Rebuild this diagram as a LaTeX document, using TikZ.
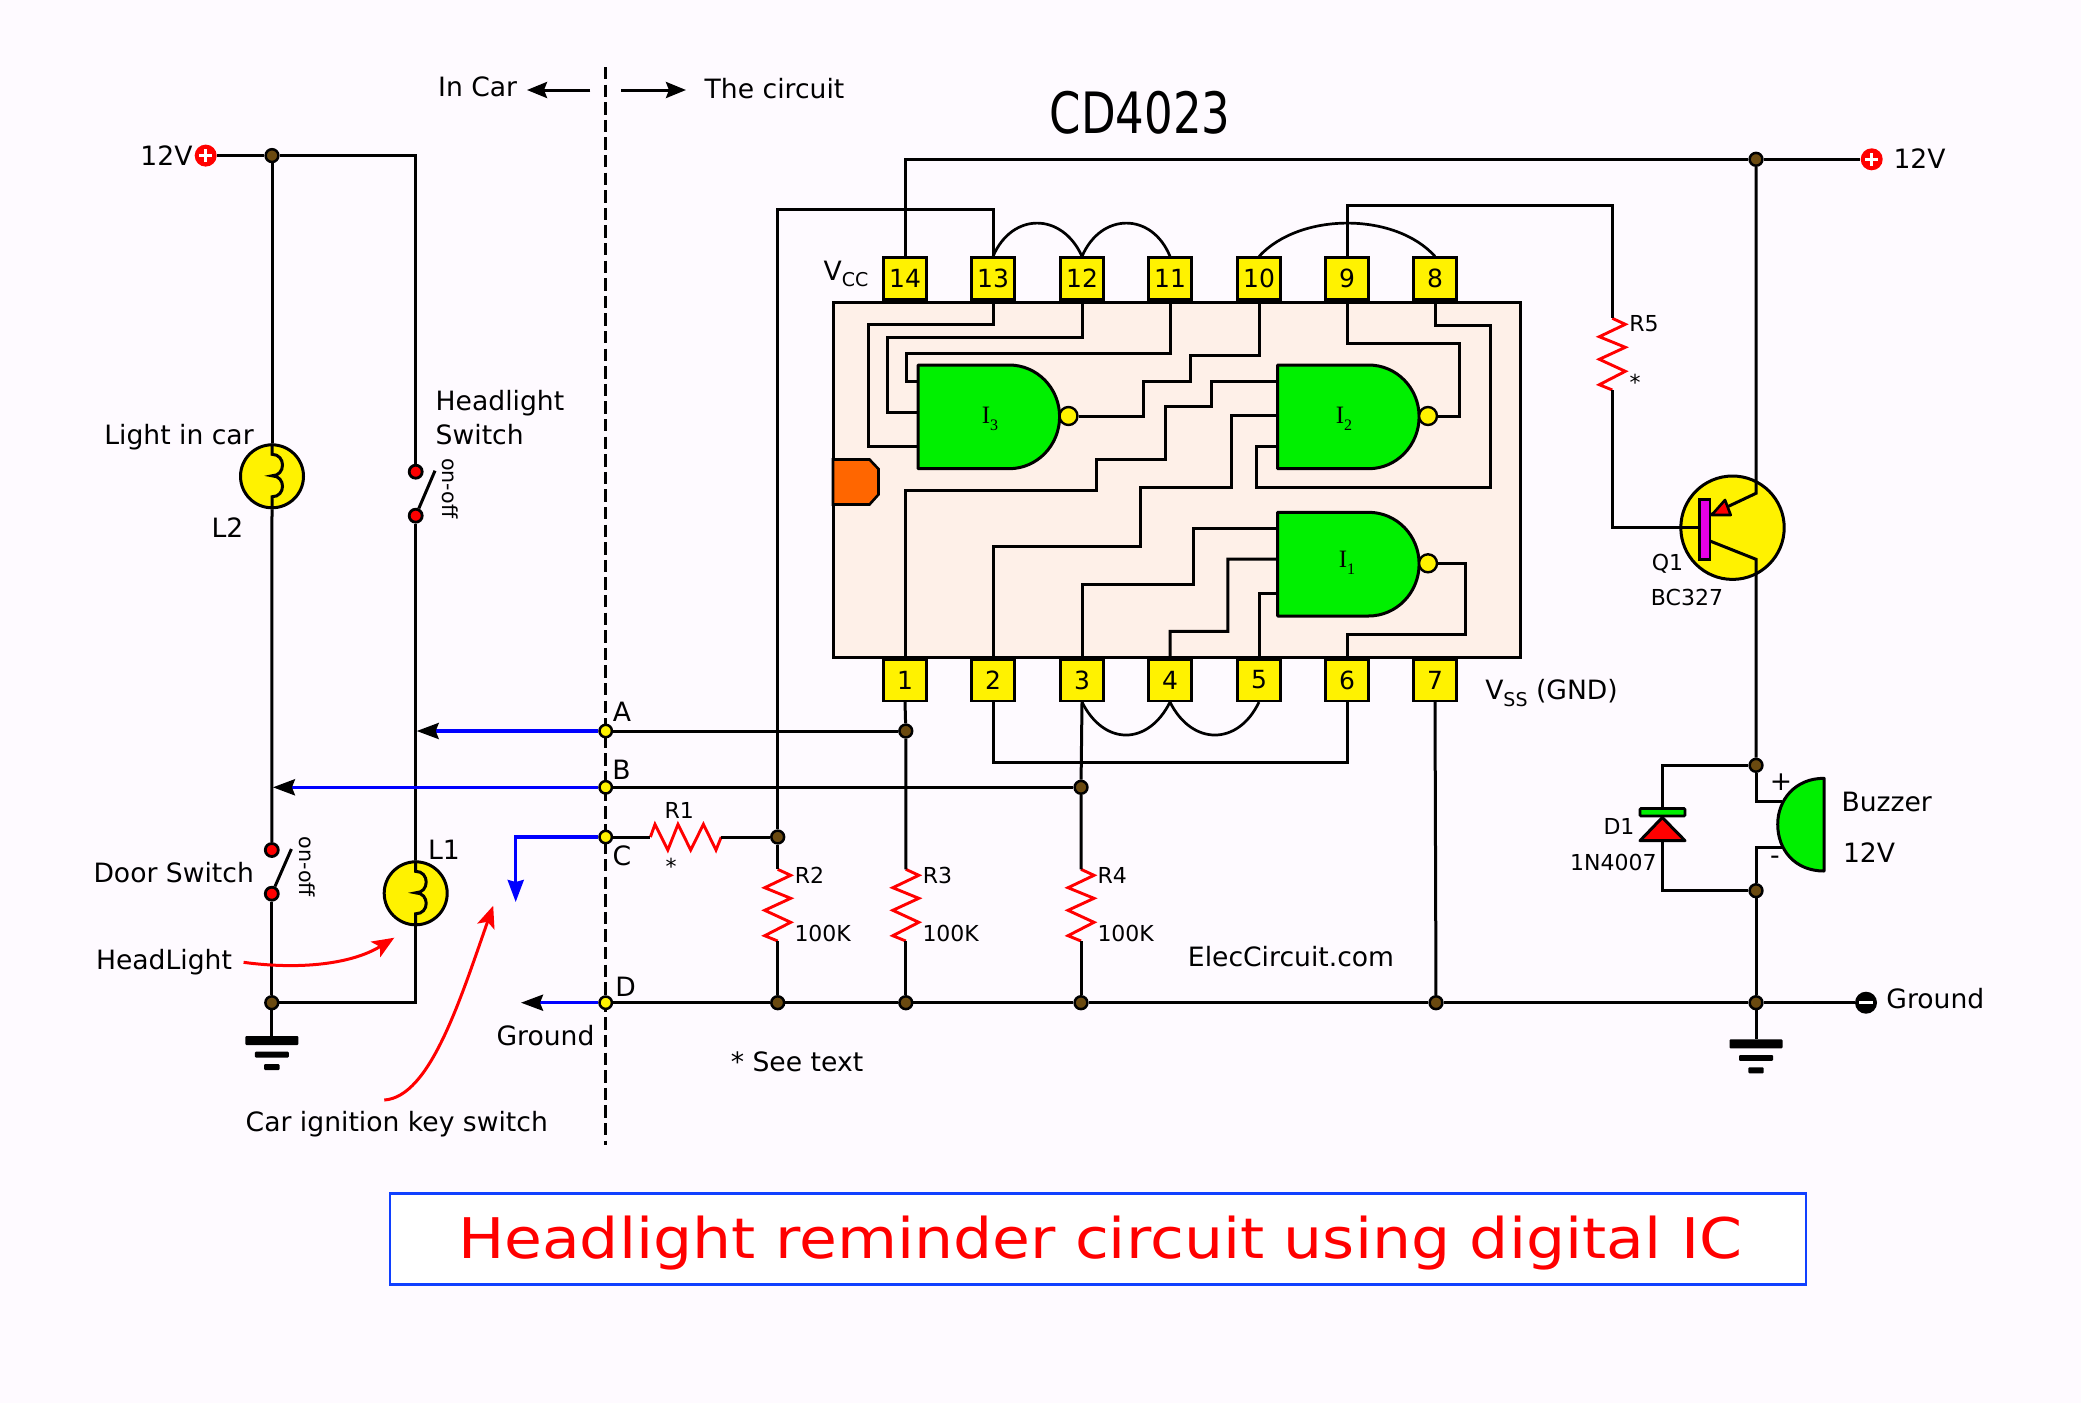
\documentclass[tikz,border=0pt]{standalone}
\usepackage{fontspec}
\setmainfont{DejaVu Sans}
\newfontfamily\gserif{Liberation Serif}
\usetikzlibrary{arrows.meta,shapes.geometric}
\pgfdeclarelayer{under}
\pgfdeclarelayer{wires}
\pgfsetlayers{under,wires,main}
\definecolor{bgc}{HTML}{FEFAFF}
\definecolor{icfill}{HTML}{FEF0E8}
\definecolor{brownj}{HTML}{6B4A10}
\definecolor{ggreen}{HTML}{00F000}
\definecolor{orng}{HTML}{FF6600}
\definecolor{titleblue}{HTML}{1040FF}
\definecolor{barm}{HTML}{E600E6}
\tikzset{
  wire/.style={line width=1.5pt,line join=miter,black},
  thinw/.style={line width=1.35pt,black},
  bluew/.style={line width=1.6pt,blue},
  redz/.style={line width=1.45pt,red,line join=miter},
  lbl/.style={font=\fontsize{13.3}{15}\selectfont,inner sep=0pt,black},
  slbl/.style={font=\fontsize{11}{13}\selectfont,inner sep=0pt,black},
  pinbox/.style={draw=black,fill=yellow,line width=1.3pt,minimum width=21.5pt,minimum height=20.8pt,inner sep=0pt,font=\fontsize{12.5}{14}\selectfont},
  jn/.style={circle,fill=brownj,draw=black,line width=1.25pt,minimum size=6.4pt,inner sep=0pt},
  ydot/.style={circle,fill=yellow,draw=black,line width=1.25pt,minimum size=6.2pt,inner sep=0pt},
  rdot/.style={circle,fill=red,draw=black,line width=1.4pt,minimum size=6.5pt,inner sep=0pt},
  lampc/.style={circle,fill=yellow,draw=black,line width=1.5pt,minimum size=31.5pt,inner sep=0pt},
  term/.style={circle,minimum size=11pt,inner sep=0pt},
  bubble/.style={circle,fill=yellow,draw=black,line width=1.2pt,minimum width=8pt,minimum height=9pt,inner sep=0pt},
  gateline/.style={draw=black,line width=1.5pt,fill=ggreen,line join=round},
  blk/.style={-{Stealth[length=11pt,width=8pt,inset=1.5pt,color=black,fill=black]}},
  redarrow/.style={-{Stealth[length=11pt,width=9pt,inset=2.5pt,color=red,fill=red]},line width=1.5pt,red},
}
\newcommand\nandgate[4]{%
  \begin{scope}[shift={(#2,#3)}]
    \draw[gateline] (0,0) -- (91,0) .. controls (119,0) and (141.6,23) .. (141.6,51.7)
      .. controls (141.6,80.4) and (119,103.7) .. (91,103.7) -- (0,103.7) -- cycle;
    \node[bubble] (#1o) at (150.5,51) {};
    \coordinate (#1a) at (0,16);
    \coordinate (#1b) at (0,#4);
    \coordinate (#1c) at (0,81.5);
  \end{scope}}
\newcommand\vres[3]{%
  \coordinate (#1t) at (#2,#3);
  \coordinate (#1b) at (#2,#3+71.7);
  \begin{pgfonlayer}{wires}
  \draw[redz] (#1t) -- ++(13,6) -- ++(-26,12.4) -- ++(26,10.6) -- ++(-26,12) -- ++(26,12) -- ++(-26,13.4) -- (#1b);
  \end{pgfonlayer}}
\newcommand\lampcoil[1]{%
  \draw[wire] (#1.north) -- ++(0,11) .. controls +(14,0) and +(14,0) .. ++(0,21.5)
    .. controls +(14,0) and +(14,0) .. ++(0,21) -- (#1.south);}
\newcommand\gndsym[2]{%
  \fill[black,rounded corners=0.5pt] (#1-26.5,#2) rectangle (#1+26.5,#2+9);
  \fill[black,rounded corners=0.5pt] (#1-17,#2+15.7) rectangle (#1+17,#2+21.5);
  \fill[black,rounded corners=0.5pt] (#1-7.7,#2+28) rectangle (#1+7.7,#2+34);}
\newcommand\gatelab[1]{{\gserif I}\raisebox{-0.55ex}{\fontsize{8}{9}\selectfont\gserif #1}}
\begin{document}
\begin{tikzpicture}[x=0.5pt,y=-0.5pt]
\useasboundingbox (0,0) rectangle (2081,1403);
\begin{pgfonlayer}{under}
  \fill[bgc] (0,0) rectangle (2081,1403);
  \draw[fill=icfill,draw=black,line width=1.5pt] (833,302) rectangle (1520,657.5);
  \draw[fill=orng,draw=black,line width=1.3pt] (833,459.5) -- (869.5,459.5) -- (878.5,469) -- (878.5,494.5) -- (869.5,504.5) -- (833,504.5) -- cycle;
  \node[lampc] (l2) at (272,476.3) {};
  \node[lampc] (l1) at (415.7,893.3) {};
  \node[circle,fill=yellow,draw=black,line width=1.5pt,minimum size=51.7pt,inner sep=0pt] (q1) at (1732.5,527.7) {};
\end{pgfonlayer}

% IC pins
\foreach \n/\x in {14/905,13/993,12/1082,11/1170,10/1259,9/1347,8/1435}
  \node[pinbox] (p\n) at (\x,278.5) {\n};
\foreach \n/\x in {1/905,2/993,3/1082,4/1170,5/1259,6/1347,7/1435}
  \node[pinbox] (p\n) at (\x,680) {\n};

% gates
\nandgate{ga}{918}{365}{47}
\nandgate{gb}{1277.5}{365}{50.3}
\nandgate{gc}{1277.5}{512.3}{46.7}
\node[inner sep=0pt,font=\fontsize{12.5}{14}\selectfont] (l3) at (990,419) {\gatelab{3}};
\node[inner sep=0pt,font=\fontsize{12.5}{14}\selectfont] (l4) at (1344,419) {\gatelab{2}};
\node[inner sep=0pt,font=\fontsize{12.5}{14}\selectfont] (l5) at (1347,563) {\gatelab{1}};

% junctions & terminals
\node[jn] (jtop) at (1756,159.3) {};
\node[jn] (jL) at (272,155.6) {};
\node[jn] (jA) at (905.8,731) {};
\node[jn] (jB) at (1081,787.3) {};
\node[jn] (jr2) at (777.7,837) {};
\node[jn] (jr2g) at (777.7,1002.7) {};
\node[jn] (jr3g) at (905.8,1002.7) {};
\node[jn] (jr4g) at (1081,1002.7) {};
\node[jn] (j7g) at (1436,1002.7) {};
\node[jn] (jg) at (1756,1002.7) {};
\node[jn] (jb1) at (1756,765.3) {};
\node[jn] (jb2) at (1756,890.7) {};
\node[jn] (jLg) at (271.8,1002.7) {};
\node[ydot] (nA) at (605.7,731) {};
\node[ydot] (nB) at (605.7,787.3) {};
\node[ydot] (nC) at (605.7,837) {};
\node[ydot] (nD) at (605.7,1002.7) {};
\node[rdot] (sw1a) at (415.7,471.7) {};
\node[rdot] (sw1b) at (415.7,515.7) {};
\node[rdot] (sw2a) at (271.8,850) {};
\node[rdot] (sw2b) at (271.8,893.7) {};
\node[term,fill=red] (plusL) at (205.7,155.6) {};
\node[term,fill=red] (plusR) at (1871.7,159.3) {};
\node[term,fill=black] (minusR) at (1866,1002.7) {};
\draw[white,line width=1.3pt] ([xshift=-3.3pt]plusL.center) -- ([xshift=3.3pt]plusL.center);
\draw[white,line width=1.3pt] ([yshift=-3.3pt]plusL.center) -- ([yshift=3.3pt]plusL.center);
\draw[white,line width=1.3pt] ([xshift=-3.3pt]plusR.center) -- ([xshift=3.3pt]plusR.center);
\draw[white,line width=1.3pt] ([yshift=-3.3pt]plusR.center) -- ([yshift=3.3pt]plusR.center);
\draw[white,line width=1.5pt] ([xshift=-3.5pt]minusR.center) -- ([xshift=3.5pt]minusR.center);

% resistors
\vres{rb}{777.7}{869.3}
\vres{rc}{905.8}{869.3}
\vres{rd}{1081}{869.3}
\vres{re}{1612.3}{318.3}
\coordinate (rar) at (650.4,837);
\coordinate (rbr) at (721.2,837);
\begin{pgfonlayer}{wires}
\draw[redz] (rar) -- ++(4.6,-12.7) -- ++(12.8,25.7) -- ++(10.2,-25.7) -- ++(12.7,25.7) -- ++(12.7,-25.7) -- ++(12.6,25.7) -- (rbr);
\end{pgfonlayer}

% transistor
\coordinate (qe) at (1756,493.3);
\coordinate (qc) at (1756,559.3);
\coordinate (qb) at (1699.5,527.7);
\draw[fill=barm,draw=black,line width=1.3pt] (1699.5,499.5) rectangle (1710,559.5);
\draw[fill=red,draw=black,line width=1.3pt,line join=round] (1711.7,515) -- (1725,500) -- (1730.7,515) -- cycle;

% buzzer
\draw[gateline] (1824,778.3) .. controls (1795,778.3) and (1777.7,800) .. (1777.7,824.3)
  .. controls (1777.7,850) and (1795,871) .. (1824,871) -- cycle;
\coordinate (bz1) at (1782,801.7);
\coordinate (bz2) at (1782,847.3);

% diode
\draw[fill=ggreen,draw=black,line width=1.3pt,rounded corners=0.5pt] (1640,808.5) rectangle (1685,816);
\draw[fill=red,draw=black,line width=1.5pt,line join=round] (1662.3,817.5) -- (1685,840.7) -- (1640,840.7) -- cycle;
\coordinate (da) at (1662.3,808.5);
\coordinate (dc) at (1662.3,840.7);

% grounds
\gndsym{271.8}{1036}
\gndsym{1756}{1039.3}
\coordinate (gl) at (271.8,1036);
\coordinate (gr) at (1756,1039.3);

% wires
\begin{pgfonlayer}{wires}
  % internal IC wiring
  \draw[wire] (p13.south) -- (993,324.7) -- (868.6,324.7) -- (868.6,446.5) -- (gac);
  \draw[wire] (p12.south) -- (1082,337.3) -- (887,337.3) -- (887,412) -- (gab);
  \draw[wire] (p11.south) -- (1170,353) -- (906,353) -- (906,381) -- (gaa);
  \draw[wire] (gao) -- (1143.7,416) -- (1143.7,381) -- (1190.4,381) -- (1190.4,355.7) -- (1259,355.7) -- (p10.south);
  \draw[wire] (gbo) -- (1459.6,416) -- (1459.6,343.7) -- (1347,343.7) -- (p9.south);
  \draw[wire] (p8.south) -- (1435,325) -- (1490.5,325) -- (1490.5,487) -- (1256,487) -- (1256,446.5) -- (gbc);
  \draw[wire] (gba) -- (1211.8,381) -- (1211.8,406.3) -- (1165.6,406.3) -- (1165.6,459.3) -- (1096.4,459.3) -- (1096.4,490.3) -- (905,490.3) -- (p1.north);
  \draw[wire] (gbb) -- (1231,415.3) -- (1231,487) -- (1140.2,487) -- (1140.2,546.7) -- (993,546.7) -- (p2.north);
  \draw[wire] (gco) -- (1465.6,563.3) -- (1465.6,634) -- (1347,634) -- (p6.north);
  \draw[wire] (gca) -- (1193.4,528.3) -- (1193.4,584) -- (1082,584) -- (p3.north);
  \draw[wire] (gcb) -- (1227.8,559) -- (1227.8,631.3) -- (1170,631.3) -- (p4.north);
  \draw[wire] (gcc) -- (1259,593.8) -- (p5.north);
  % top wiring
  \draw[wire] (p14.north) -- (905,159.3) -- (jtop);
  \draw[wire] (jtop) -- (plusR);
  \draw[wire] (p13.north) -- (993,209.3) -- (777.7,209.3) -- (jr2);
  \draw[wire] (p9.north) -- (1347,205) -- (1612.3,205) -- (ret);
  \draw[thinw] (p13.north) .. controls (1012,212) and (1062,212) .. (p12.north);
  \draw[thinw] (p12.north) .. controls (1101,212) and (1152,212) .. (p11.north);
  \draw[thinw] (p10.north) .. controls (1300,212) and (1395,212) .. (p8.north);
  % bottom wiring
  \draw[thinw] (p3.south) .. controls (1104,746) and (1148,746) .. (p4.south);
  \draw[thinw] (p4.south) .. controls (1192,746) and (1238,746) .. (p5.south);
  \draw[wire] (p2.south) -- (993,762.3) -- (1347,762.3) -- (p6.south);
  \draw[wire] (p1.south) -- (jA) -- (rct);
  \draw[wire] (p3.south) -- (jB) -- (rdt);
  \draw[wire] (p7.south) -- (j7g);
  \draw[wire] (nA) -- (jA);
  \draw[wire] (nB) -- (jB);
  \draw[wire] (nC) -- (rar);
  \draw[wire] (rbr) -- (jr2);
  \draw[wire] (jr2) -- (rbt);
  \draw[wire] (rbb) -- (jr2g);
  \draw[wire] (rcb) -- (jr3g);
  \draw[wire] (rdb) -- (jr4g);
  \draw[wire] (nD) -- (jr2g) -- (jr3g) -- (jr4g) -- (j7g) -- (jg) -- (minusR);
  % transistor
  \draw[wire] (reb) -- (1612.3,527.7) -- (qb);
  \draw[wire] (jtop) -- (qe) -- (1710,515);
  \draw[wire] (1710,541) -- (qc) -- (jb1);
  % buzzer and diode
  \draw[wire] (jb1) -- (1662.3,765.3) -- (da);
  \draw[wire] (dc) -- (1662.3,890.7) -- (jb2);
  \draw[wire] (jb1) -- (1756,801.7) -- (bz1);
  \draw[wire] (bz2) -- (1756,847.3) -- (jb2);
  \draw[wire] (jb2) -- (jg);
  \draw[wire] (jg) -- (gr);
  % car side
  \draw[wire] (plusL) -- (jL);
  \draw[wire] (jL) -- (415.7,155.6) -- (sw1a);
  \draw[wire] (jL) -- (l2.north);
  \lampcoil{l2}
  \lampcoil{l1}
  \draw[wire] (l2.south) -- (sw2a);
  \draw[wire] (sw1b) -- (l1.north);
  \draw[wire] (sw2b) -- (jLg);
  \draw[wire] (l1.south) -- (415.7,1002.7) -- (jLg);
  \draw[wire] (jLg) -- (gl);
  \coordinate (sw1l) at (435,470.7);
  \coordinate (sw2l) at (291.4,849);
  \draw[line width=1.5pt] (sw1b) -- (sw1l);
  \draw[line width=1.5pt] (sw2b) -- (sw2l);
  % dashed divider
  \coordinate (dvt) at (605.7,67);
  \coordinate (dvb) at (605.7,1145);
  \draw[line width=1.5pt,dash pattern=on 6.2pt off 2.6pt] (dvt) -- (dvb);
\end{pgfonlayer}

% blue arrows
\coordinate (ta) at (416.7,731);
\coordinate (tb) at (272.9,787.3);
\coordinate (tc) at (515.7,902);
\coordinate (td) at (521,1002.7);
\begin{pgfonlayer}{wires}
  \draw[bluew,blk] (nA) -- (ta);
  \draw[bluew,blk] (nB) -- (tb);
  \draw[bluew,blk] (nD) -- (td);
  \draw[bluew,-{Stealth[length=11pt,width=8pt,inset=1pt]}] (nC) -- (515.7,837) -- (tc);
\end{pgfonlayer}

% direction arrows
\coordinate (icl) at (590.4,90);
\coordinate (icr) at (527,90);
\coordinate (tcl) at (621,90);
\coordinate (tcr) at (686,90);
\draw[line width=1.5pt,-{Stealth[length=10pt,width=8pt,inset=1.5pt]}] (icl) -- (icr);
\draw[line width=1.5pt,-{Stealth[length=10pt,width=8pt,inset=1.5pt]}] (tcl) -- (tcr);

% red callouts
\coordinate (hls) at (243.6,962.3);
\coordinate (hle) at (394.3,937.7);
\coordinate (iks) at (384.3,1100);
\coordinate (ike) at (493.2,905.7);
\draw[redarrow] (hls) .. controls (300,970) and (352,964) .. (hle);
\draw[redarrow] (iks) .. controls (430,1097) and (460,1000) .. (ike);

% labels
\node[lbl] (t1) at (477.7,87) {In Car};
\node[lbl] (t2) at (774.5,89) {The circuit};
\node[inner sep=0pt,font=\fontsize{28.5}{30}\selectfont] (t3) at (1140,113) {\scalebox{0.79}[1]{CD4023}};
\node[lbl] (t4) at (166.5,155.6) {12V};
\node[lbl] (t5) at (1919.5,159) {12V};
\node[lbl] (t6) at (179,437.5) {Light in car};
\node[lbl] (t7) at (227.5,527.7) {L2};
\node[lbl,anchor=west] (t8) at (435.3,403.3) {Headlight};
\node[lbl,anchor=west] (t9) at (435.3,435) {Switch};
\node[font=\fontsize{10.3}{12}\selectfont,inner sep=0pt,rotate=-90] (t10) at (450,488.3) {on-off};
\node[font=\fontsize{10.3}{12}\selectfont,inner sep=0pt,rotate=-90] (t11) at (307,866.7) {on-off};
\node[lbl] (t12) at (173.7,872.7) {Door Switch};
\node[lbl] (t13) at (444,850) {L1};
\node[lbl] (t14) at (164,962.5) {HeadLight};
\node[lbl] (t15) at (545.5,1036) {Ground};
\node[lbl] (t16) at (396.8,1124) {Car ignition key switch};
\node[lbl] (t17) at (622,712) {A};
\node[lbl] (t18) at (621.5,770) {B};
\node[lbl] (t19) at (622,856) {C};
\node[lbl] (t20) at (625.5,986.7) {D};
\node[slbl] (t21) at (679.3,810.5) {R1};
\node[slbl] (t22) at (671,866) {*};
\node[slbl] (t23) at (809.5,875) {R2};
\node[slbl] (t24) at (822.7,933.5) {100K};
\node[slbl] (t25) at (937.5,875) {R3};
\node[slbl] (t26) at (950.7,933.5) {100K};
\node[slbl] (t27) at (1112.2,875) {R4};
\node[slbl] (t28) at (1125.7,933.5) {100K};
\node[lbl] (t29) at (797,1061.5) {* See text};
\node[lbl] (t30) at (1291,957) {ElecCircuit.com};
\node[slbl] (t31) at (1644,324) {R5};
\node[slbl] (t32) at (1635,382) {*};
\node[slbl] (t33) at (1667.5,564) {Q1};
\node[slbl] (t34) at (1687,597.5) {BC327};
\node[slbl] (t35) at (1619,826) {D1};
\node[slbl] (t36) at (1613.3,862.7) {1N4007};
\node[lbl] (t37) at (1781,782.3) {+};
\node[lbl] (t38) at (1775,860) {-};
\node[lbl] (t39) at (1886.7,801.7) {Buzzer};
\node[lbl] (t40) at (1869,852.3) {12V};
\node[lbl] (t41) at (1935.3,999) {Ground};
\node[lbl] (t42) at (846,274) {V\raisebox{-0.45ex}{\fontsize{9.5}{11}\selectfont CC}};
\node[lbl] (t43) at (1551.5,693) {V\raisebox{-0.45ex}{\fontsize{9.5}{11}\selectfont SS} (GND)};

% title
\node[draw=titleblue,fill=white,line width=1.4pt,minimum width=708pt,minimum height=45.5pt,inner sep=0pt] (title) at (1098,1238.7) {};
\node[inner sep=0pt,text=red,font=\fontsize{28}{32}\selectfont] (titletext) at (1100,1242.7) {\scalebox{1.1}[1]{Headlight reminder circuit using digital IC}};
\end{tikzpicture}
\end{document}
